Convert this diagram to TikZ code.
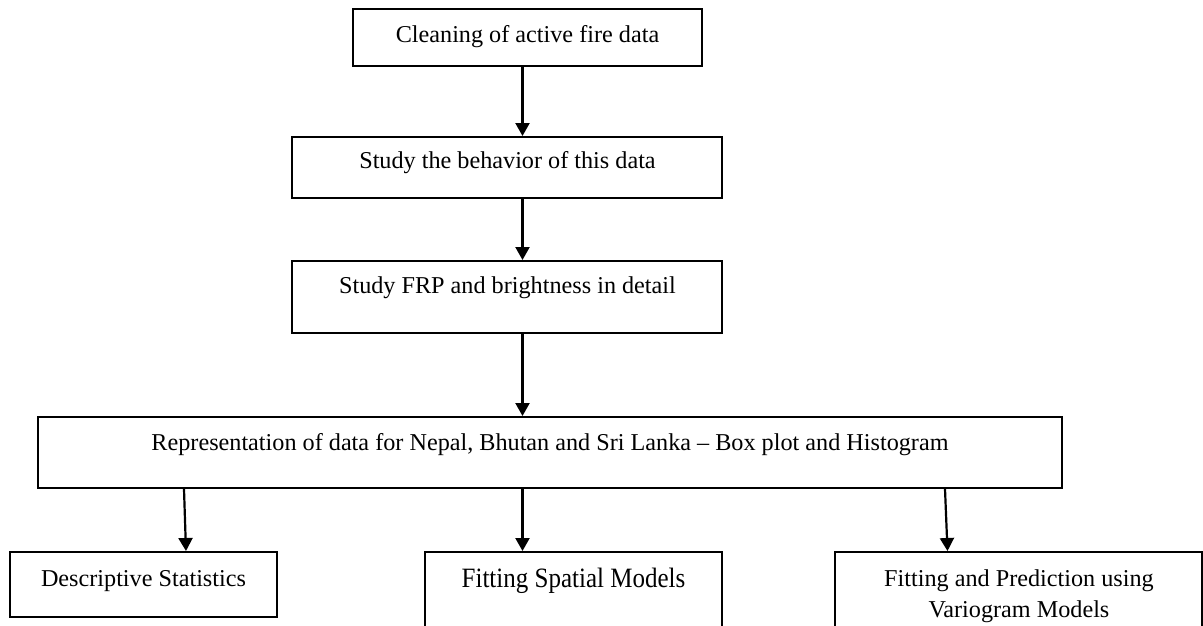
\documentclass[tikz,border=0pt]{standalone}
\usepackage{fontspec}
\setmainfont{Liberation Serif}
\usetikzlibrary{arrows.meta}
\begin{document}
\begin{tikzpicture}[x=1pt,y=-1pt,
  box/.style={draw=black,line width=2pt,inner sep=0pt},
  txt/.style={inner sep=0pt,anchor=base,font=\fontsize{24.2}{31}\selectfont},
  arr/.style={line width=2.2pt,-{Triangle[length=13pt,width=14pt]}}]
\useasboundingbox (0,0) rectangle (1203,625);
\clip (0,0) rectangle (1203,625);
% boxes
\node[box,minimum width=349pt,minimum height=57pt] (b1) at (527.5,37.5) {};
\node[box,minimum width=430pt,minimum height=61pt] (b2) at (507,167.5) {};
\node[box,minimum width=430pt,minimum height=72pt] (b3) at (507,297) {};
\node[box,minimum width=1024pt,minimum height=71pt] (b4) at (550,452.5) {};
\node[box,minimum width=267pt,minimum height=65pt] (b5) at (143.5,584.5) {};
\node[box,minimum width=297pt,minimum height=90pt] (b6) at (573.5,597) {};
\node[box,minimum width=367.5pt,minimum height=90pt] (b7) at (1018.25,597) {};
% texts
\node[txt] (t1) at (527.5,42.7) {Cleaning of active fire data};
\node[txt] (t2) at (507.5,168) {Study the behavior of this data};
\node[txt] (t3) at (507.5,293) {Study FRP and brightness in detail};
\node[txt] (t4) at (550,450) {Representation of data for Nepal, Bhutan and Sri Lanka -- Box plot and Histogram};
\node[txt] (t5) at (143.5,586) {Descriptive Statistics};
\node[txt] (t6) at (573.5,587) {\scalebox{1}[1.12]{\fontsize{25}{30}\selectfont Fitting Spatial Models}};
\node[txt] (t7a) at (1019,586) {Fitting and Prediction using};
\node[txt] (t7b) at (1019,617) {Variogram Models};
% connector columns
\coordinate (m) at (522.5,0);
\coordinate (l1) at (184,0);
\coordinate (l2) at (186,0);
\coordinate (r1) at (945,0);
\coordinate (r2) at (947.5,0);
% connectors
\draw[arr] (b1.south -| m) -- (b2.north -| m);
\draw[arr] (b2.south -| m) -- (b3.north -| m);
\draw[arr] (b3.south -| m) -- (b4.north -| m);
\draw[arr] (b4.south -| l1) -- (b5.north -| l2);
\draw[arr] (b4.south -| m) -- (b6.north -| m);
\draw[arr] (b4.south -| r1) -- (b7.north -| r2);
\end{tikzpicture}
\end{document}
